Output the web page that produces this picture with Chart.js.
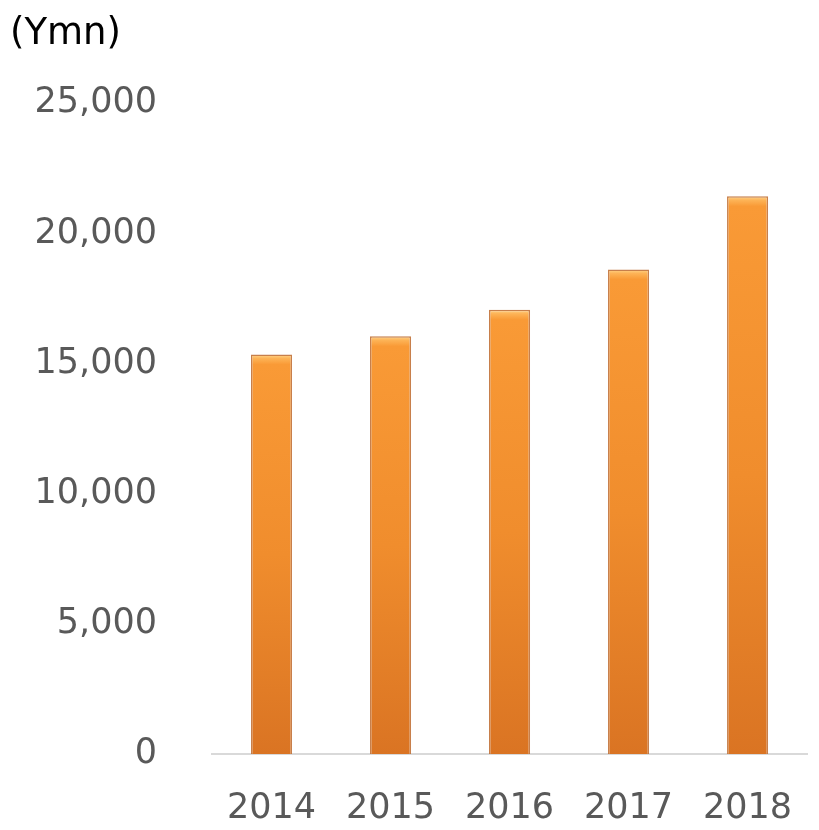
<!DOCTYPE html>
<html>
<head>
<meta charset="utf-8">
<script src="https://cdn.jsdelivr.net/npm/chart.js@4.4.1/dist/chart.umd.min.js"></script>
<style>
  html, body { margin: 0; padding: 0; background: #fff; }
  canvas { display: block; }
</style>
</head>
<body>
<canvas id="salesChart" width="819" height="830"></canvas>
<script>
// data
var years = ["2014", "2015", "2016", "2017", "2018"];
var sales = [15350, 16050, 17070, 18620, 21430]; // Ymn
var yTicks = [0, 5000, 10000, 15000, 20000, 25000];

// orange fill with a light bevel at the top of each bar, darker toward the baseline
function barFill(context) {
    var chart = context.chart;
    var area = chart.chartArea;
    var yScale = chart.scales.y;
    if (!area || !yScale || context.raw === undefined) return "#F39130";
    var top = yScale.getPixelForValue(context.raw);
    var h = Math.max(area.bottom - top, 1);
    var g = chart.ctx.createLinearGradient(0, top, 0, area.bottom);
    g.addColorStop(0, "#FFD68C");
    g.addColorStop(Math.min(4 / h, 1), "#FDB356");
    g.addColorStop(Math.min(10 / h, 1), "#F99A36");
    g.addColorStop(0.5, "#F08D2D");
    g.addColorStop(1, "#DA7423");
    return g;
}

var ctx = document.getElementById("salesChart").getContext("2d");
var salesChart = new Chart(ctx, {
    type: "bar",
    data: {
        labels: years,
        datasets: [{
            data: sales,
            backgroundColor: barFill,
            borderColor: "rgba(185,95,30,0.8)",
            borderWidth: 1.5,
            barPercentage: 0.69,
            categoryPercentage: 0.5,
        }],
    },
    options: {
        responsive: false,
        animation: false,
        layout: {
            padding: { left: 10, right: 9, top: 0, bottom: 0 },
        },
        plugins: {
            legend: { display: false },
            tooltip: { enabled: false },
            title: {
                display: true,
                text: "(Ymn)",
                align: "start",
                color: "#000",
                font: { family: "DejaVu Sans", size: 37, weight: "normal" },
                padding: { top: 12, bottom: 47 },
            },
        },
        scales: {
            x: {
                afterFit: function (axis) {
                    axis.height = 71;
                },
                grid: { display: false },
                border: { display: true, color: "#D9D9D9", width: 2 },
                ticks: {
                    color: "#595959",
                    padding: 26,
                    font: { family: "DejaVu Sans", size: 35 },
                },
            },
            y: {
                min: 0,
                max: 25000,
                afterBuildTicks: function (axis) {
                    axis.ticks = yTicks.map(function (v) { return { value: v }; });
                },
                afterFit: function (axis) {
                    axis.width = 202;
                },
                grid: { display: false, drawTicks: false },
                border: { display: false },
                ticks: {
                    color: "#595959",
                    padding: 55,
                    font: { family: "DejaVu Sans", size: 35 },
                    callback: function (v) { return v.toLocaleString("en-US"); },
                },
            },
        },
    },
});
</script>
</body>
</html>
